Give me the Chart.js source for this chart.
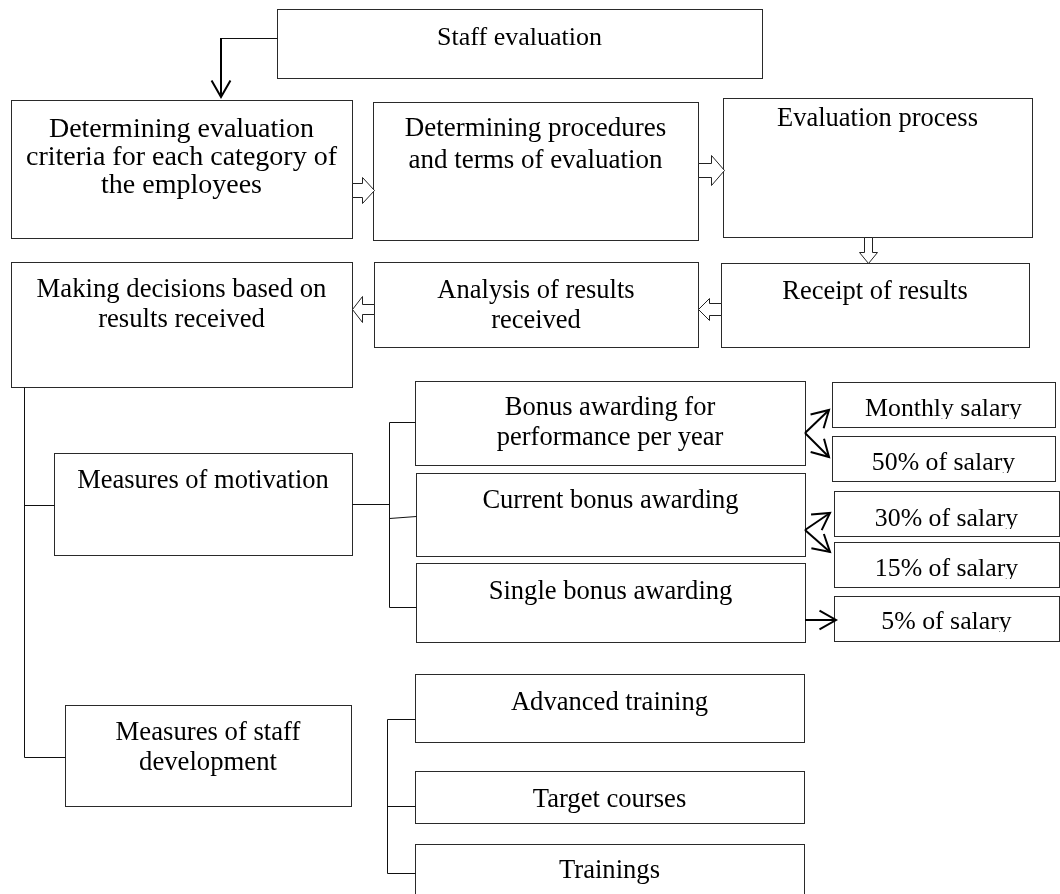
<!DOCTYPE html>
<html>
<head>
<meta charset="utf-8">
<title>Staff evaluation</title>
<script src="https://cdn.jsdelivr.net/npm/chart.js@4.4.1/dist/chart.umd.min.js"></script>
<style>
  html, body { margin: 0; padding: 0; background: #fff; }
  #chart { display: block; }
</style>
</head>
<body>
<canvas id="chart" width="1060" height="894"></canvas>
<script>
// Textos del diagrama (cada elemento = lineas de una caja)
const processSteps = [
    ['Staff evaluation'],
    ['Determining evaluation', 'criteria for each category of', 'the employees'],
    ['Determining procedures', 'and terms of evaluation'],
    ['Evaluation process'],
    ['Receipt of results'],
    ['Analysis of results', 'received'],
    ['Making decisions based on', 'results received']
];
const measureGroups = [
    ['Measures of motivation'],
    ['Measures of staff', 'development']
];
const bonusTypes = [
    ['Bonus awarding for', 'performance per year'],
    ['Current bonus awarding'],
    ['Single bonus awarding']
];
const bonusAmounts = [
    ['Monthly salary'],
    ['50% of salary'],
    ['30% of salary'],
    ['15% of salary'],
    ['5% of salary']
];
const developmentForms = [
    ['Advanced training'],
    ['Target courses'],
    ['Trainings']
];

// Disposicion: [x0, y0, x1, y1, baseline, fontSize, lineHeight, clip]
const processLayout = [
    [277, 9, 762, 78, 45, 26, 29],
    [11, 100, 352, 238, 137, 28, 28],
    [373, 102, 698, 240, 136, 27, 31.5],
    [723, 98, 1032, 237, 126, 26.5, 29],
    [721, 263, 1029, 347, 299, 26.5, 29],
    [374, 262, 698, 347, 298, 26.5, 29.5],
    [11, 262, 352, 387, 297, 26.7, 29.5]
];
const measureLayout = [
    [54, 453, 352, 555, 488, 26.5, 29],
    [65, 705, 351, 806, 740, 26.7, 30]
];
const bonusLayout = [
    [415, 381, 805, 465, 415, 26.5, 30],
    [416, 473, 805, 556, 508, 26.5, 29],
    [416, 563, 805, 642, 599, 26.6, 29]
];
const amountLayout = [
    [832, 382, 1055, 427, 416, 25.8, 29, true],
    [832, 436, 1055, 481, 470, 25.8, 29, true],
    [834, 491, 1059, 536, 526, 25.8, 29, true],
    [834, 542, 1059, 587, 576, 25.8, 29, true],
    [834, 596, 1059, 641, 629, 25.8, 29, true]
];
const developmentLayout = [
    [415, 674, 804, 742, 710, 26.6, 29],
    [415, 771, 804, 823, 807, 26.6, 29],
    [415, 844, 804, 910, 878, 26.6, 29]
];

// Conectores finos
const connectorLines = [
    [[277, 38], [221, 38]],
    [[24, 387], [24, 757]],
    [[24, 505], [54, 505]],
    [[24, 757], [65, 757]],
    [[352, 504], [389, 504]],
    [[389, 422], [389, 607]],
    [[389, 422], [415, 422]],
    [[389, 518], [416, 516]],
    [[389, 607], [416, 607]],
    [[387, 719], [387, 873]],
    [[387, 719], [415, 719]],
    [[387, 806], [415, 806]],
    [[387, 873], [415, 873]]
];
// Flechas de linea gruesa: [desde, hasta]
const lineArrows = [
    [[221, 38], [221, 97]],
    [[805, 433], [829, 410]],
    [[805, 433], [829, 457]],
    [[805, 530], [830, 513]],
    [[805, 530], [830, 552]],
    [[805, 620], [836, 620]]
];
// Flechas huecas: [cola, punta, medio ancho del cuerpo, medio ancho de la cabeza, largo cabeza]
const blockArrows = [
    [[352, 190], [374, 190], 7, 13, 12],
    [[698, 170], [724, 170], 7, 15, 13],
    [[868, 237], [868, 263], 4, 9, 11],
    [[721, 309], [698, 309], 6, 11, 11],
    [[374, 309], [352, 309], 5, 13, 10]
];

const FONT = '"Liberation Serif", "Times New Roman", serif';

function allBoxes() {
    const out = [];
    const add = (texts, layout) => texts.forEach((t, i) => out.push({ lines: t, l: layout[i] }));
    add(processSteps, processLayout);
    add(measureGroups, measureLayout);
    add(bonusTypes, bonusLayout);
    add(bonusAmounts, amountLayout);
    add(developmentForms, developmentLayout);
    return out;
}

const diagramPlugin = {
    id: 'diagram',
    afterDatasetsDraw(chart) {
        const ctx = chart.ctx;
        const sx = v => Math.round(chart.scales.x.getPixelForValue(v));
        const sy = v => Math.round(chart.scales.y.getPixelForValue(v));
        ctx.save();

        // cajas
        allBoxes().forEach(b => {
            const [x0, y0, x1, y1, base, fs, lh, clip] = b.l;
            const px0 = sx(x0), py0 = sy(y0), px1 = sx(x1), py1 = sy(y1);
            ctx.fillStyle = '#fff';
            ctx.fillRect(px0, py0, px1 - px0, py1 - py0);
            ctx.strokeStyle = '#2a2a2a';
            ctx.lineWidth = 1;
            ctx.strokeRect(px0 + 0.5, py0 + 0.5, px1 - px0, py1 - py0);

            ctx.save();
            if (clip) {
                ctx.beginPath();
                ctx.rect(px0 + 1, py0 + 1, px1 - px0 - 2, sy(base + 2) - py0);
                ctx.clip();
            }
            ctx.fillStyle = '#000';
            ctx.font = fs + 'px ' + FONT;
            ctx.textAlign = 'center';
            ctx.textBaseline = 'alphabetic';
            b.lines.forEach((line, k) => {
                ctx.fillText(line, (px0 + px1) / 2, sy(base + k * lh));
            });
            ctx.restore();
        });

        // conectores
        ctx.strokeStyle = '#111';
        ctx.lineWidth = 1;
        connectorLines.forEach(([a, b]) => {
            ctx.beginPath();
            ctx.moveTo(sx(a[0]) + 0.5, sy(a[1]) + 0.5);
            ctx.lineTo(sx(b[0]) + 0.5, sy(b[1]) + 0.5);
            ctx.stroke();
        });

        // flechas de linea
        ctx.strokeStyle = '#000';
        ctx.lineWidth = 2;
        ctx.lineCap = 'butt';
        ctx.lineJoin = 'miter';
        lineArrows.forEach(([a, b]) => {
            const ax = sx(a[0]), ay = sy(a[1]), bx = sx(b[0]), by = sy(b[1]);
            const ang = Math.atan2(by - ay, bx - ax);
            const hl = 19, spread = 0.52;
            ctx.beginPath();
            ctx.moveTo(ax, ay);
            ctx.lineTo(bx, by);
            ctx.stroke();
            ctx.beginPath();
            ctx.moveTo(bx - hl * Math.cos(ang - spread), by - hl * Math.sin(ang - spread));
            ctx.lineTo(bx, by);
            ctx.lineTo(bx - hl * Math.cos(ang + spread), by - hl * Math.sin(ang + spread));
            ctx.stroke();
        });

        // flechas huecas
        ctx.lineWidth = 1;
        ctx.strokeStyle = '#222';
        blockArrows.forEach(([t, p, sw, hw, hl]) => {
            const tx = sx(t[0]), ty = sy(t[1]), px = sx(p[0]), py = sy(p[1]);
            const len = Math.hypot(px - tx, py - ty);
            const ux = (px - tx) / len, uy = (py - ty) / len;
            const nx = -uy, ny = ux;
            const bx = px - ux * hl, by = py - uy * hl;
            const pts = [
                [tx + nx * sw, ty + ny * sw],
                [bx + nx * sw, by + ny * sw],
                [bx + nx * hw, by + ny * hw],
                [px, py],
                [bx - nx * hw, by - ny * hw],
                [bx - nx * sw, by - ny * sw],
                [tx - nx * sw, ty - ny * sw]
            ];
            ctx.beginPath();
            pts.forEach((q, i) => i ? ctx.lineTo(q[0] + 0.5, q[1] + 0.5) : ctx.moveTo(q[0] + 0.5, q[1] + 0.5));
            ctx.closePath();
            ctx.fillStyle = '#fff';
            ctx.fill();
            ctx.stroke();
        });

        ctx.restore();
    }
};

new Chart(document.getElementById('chart'), {
    type: 'scatter',
    data: { datasets: [{ data: [], pointRadius: 0 }] },
    options: {
        responsive: false,
        animation: false,
        layout: { padding: 0 },
        plugins: { legend: { display: false }, tooltip: { enabled: false } },
        scales: {
            x: { type: 'linear', min: 0, max: 1060, display: false },
            y: { type: 'linear', min: 0, max: 894, reverse: true, display: false }
        }
    },
    plugins: [diagramPlugin]
});
</script>
</body>
</html>
